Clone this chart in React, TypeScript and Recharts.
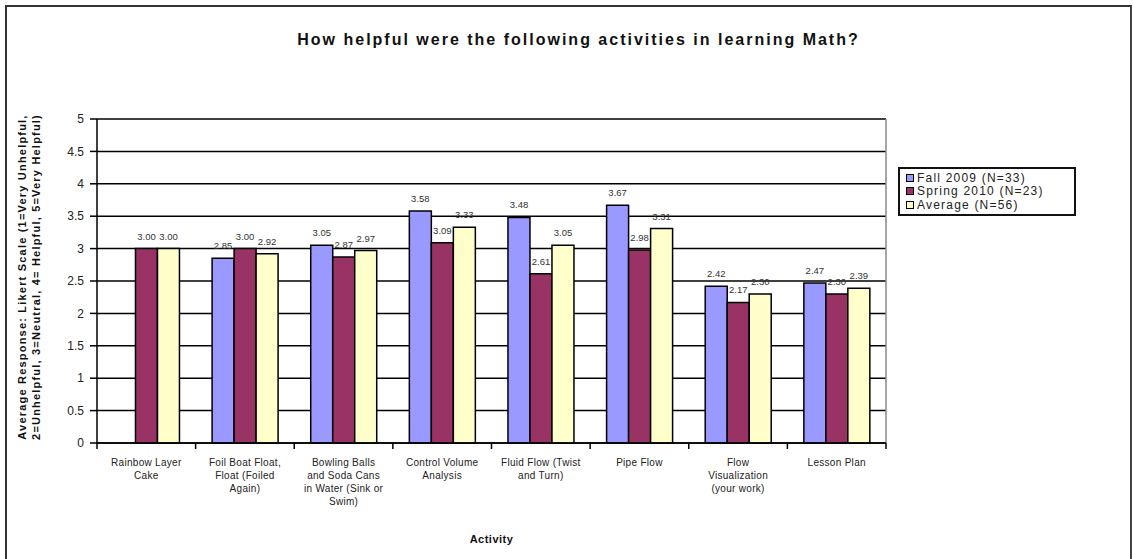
import React from 'react';
import {
  BarChart,
  Bar,
  XAxis,
  YAxis,
  CartesianGrid,
  Legend,
  LabelList,
  Label,
} from 'recharts';

// Activities on the category axis, with the wrapped lines shown under each tick
const categories = [
  'Rainbow Layer Cake',
  'Foil Boat Float, Float (Foiled Again)',
  'Bowling Balls and Soda Cans in Water (Sink or Swim)',
  'Control Volume Analysis',
  'Fluid Flow (Twist and Turn)',
  'Pipe Flow',
  'Flow Visualization (your work)',
  'Lesson Plan',
];
const categoryLines = [
  ['Rainbow Layer', 'Cake'],
  ['Foil Boat Float,', 'Float (Foiled', 'Again)'],
  ['Bowling Balls', 'and Soda Cans', 'in Water (Sink or', 'Swim)'],
  ['Control Volume', 'Analysis'],
  ['Fluid Flow (Twist', 'and Turn)'],
  ['Pipe Flow'],
  ['Flow', 'Visualization', '(your work)'],
  ['Lesson Plan'],
];

// Mean Likert responses per cohort
const fall2009: (number | null)[] = [null, 2.85, 3.05, 3.58, 3.48, 3.67, 2.42, 2.47];
const spring2010 = [3.0, 3.0, 2.87, 3.09, 2.61, 2.98, 2.17, 2.3];
const average = [3.0, 2.92, 2.97, 3.33, 3.05, 3.31, 2.3, 2.39];

const seriesNames = ['Fall 2009 (N=33)', 'Spring 2010 (N=23)', 'Average (N=56)'];
const seriesColors = ['#9999FF', '#993366', '#FFFFCC'];
const yTicks = [0, 0.5, 1, 1.5, 2, 2.5, 3, 3.5, 4, 4.5, 5];

const data = categories.map((name, i) => ({
  name,
  lines: categoryLines[i],
  fall: fall2009[i],
  spring: spring2010[i],
  avg: average[i],
}));

const FONT = '"Liberation Sans", Arial, sans-serif';
const W = 1133;
const H = 559;
const MARGIN = { top: 119, right: 247, bottom: 0, left: 0 };
const Y_AXIS_W = 97;
const X_AXIS_H = 116;
const PLOT_W = W - MARGIN.left - MARGIN.right - Y_AXIS_W;

const CategoryTick = (props: any) => {
  const { x, y, payload, index } = props;
  const half = payload && payload.offset ? payload.offset : PLOT_W / categories.length / 2;
  const axisY = y - 8;
  const lines: string[] = categoryLines[index] || [];
  return (
    <g>
      <line x1={x - half} x2={x - half} y1={axisY} y2={axisY + 6} stroke="#000" strokeWidth={1.5} />
      {index === categories.length - 1 && (
        <line x1={x + half} x2={x + half} y1={axisY} y2={axisY + 6} stroke="#000" strokeWidth={1.5} />
      )}
      <text
        x={x}
        y={axisY + 23}
        textAnchor="middle"
        fontFamily={FONT}
        fontSize={10}
        letterSpacing={0.3}
        fill="#222"
      >
        {lines.map((ln, k) => (
          <tspan key={k} x={x} dy={k === 0 ? 0 : 13}>
            {ln}
          </tspan>
        ))}
      </text>
    </g>
  );
};

const YAxisTitle = (props: any) => {
  const vb = props.viewBox || {};
  const cy = (vb.y || 119) + (vb.height || 324) / 2;
  return (
    <text
      transform={`translate(29, ${cy - 4}) rotate(-90)`}
      textAnchor="middle"
      fontFamily={FONT}
      fontSize={11}
      fontWeight="bold"
      letterSpacing={1.2}
      fill="#111"
    >
      <tspan x={0} dy={-3}>Average Response: Likert Scale (1=Very Unhelpful,</tspan>
      <tspan x={0} dy={14}>2=Unhelpful, 3=Neutral, 4= Helpful, 5=Very Helpful)</tspan>
    </text>
  );
};

const LegendBox = () => (
  <div
    style={{
      border: '2px solid #111',
      background: '#fff',
      padding: '2px 5px 2px 6px',
      fontFamily: FONT,
      fontSize: 12,
      letterSpacing: 1.2,
      color: '#222',
      width: 178,
      boxSizing: 'border-box',
      textAlign: 'left',
    }}
  >
    {seriesNames.map((n, i) => (
      <div key={n} style={{ display: 'flex', alignItems: 'center', height: 13.5, whiteSpace: 'nowrap' }}>
        <span
          style={{
            display: 'inline-block',
            width: 6,
            height: 6,
            background: seriesColors[i],
            border: '1.5px solid #000',
            marginRight: 3,
            flex: 'none',
          }}
        />
        <span>{n}</span>
      </div>
    ))}
  </div>
);

const fmt = (v: any) => (v === null || v === undefined ? '' : Number(v).toFixed(2));
const valueLabelStyle = { fontFamily: FONT, fontSize: 9.5, fill: '#333' };

export default function App() {
  return (
    <div style={{ position: 'absolute', left: 0, top: 0, width: W, height: H, background: '#fff' }}>
      <div
        style={{
          position: 'absolute',
          left: 5,
          top: 5,
          width: 1123,
          height: 552,
          borderLeft: '2px solid #333',
          borderTop: '2px solid #333',
          borderRight: '2px solid #444',
          borderBottom: '1px solid #bbb',
        }}
      />
      <div
        style={{
          position: 'absolute',
          left: 12,
          top: 31,
          width: W,
          textAlign: 'center',
          fontFamily: FONT,
          fontWeight: 'bold',
          fontSize: 16,
          letterSpacing: 2,
          color: '#111',
        }}
      >
        How helpful were the following activities in learning Math?
      </div>
      <BarChart
        width={W}
        height={H}
        data={data}
        margin={MARGIN}
        barGap={0}
        barCategoryGap="16.7%"
        style={{ position: 'absolute', left: 0, top: 0 }}
      >
        <CartesianGrid horizontal vertical={false} stroke="#000" strokeWidth={1.5} />
        <CartesianGrid
          horizontal={false}
          vertical
          stroke="#888"
          strokeWidth={1.5}
          verticalCoordinatesGenerator={({ offset }: any) => [offset.left + offset.width]}
        />
        <XAxis
          dataKey="name"
          height={X_AXIS_H}
          interval={0}
          tickLine={false}
          tickSize={6}
          tickMargin={2}
          axisLine={{ stroke: '#000', strokeWidth: 1.5 }}
          tick={<CategoryTick />}
        >
          <Label
            value="Activity"
            position="insideBottom"
            offset={16}
            style={{ fontFamily: FONT, fontSize: 11, fontWeight: 'bold', fill: '#111', letterSpacing: 0.5 }}
          />
        </XAxis>
        <YAxis
          width={Y_AXIS_W}
          domain={[0, 5]}
          ticks={yTicks}
          interval={0}
          tickSize={7}
          tickMargin={6}
          tickLine={{ stroke: '#000', strokeWidth: 1.5 }}
          axisLine={{ stroke: '#000', strokeWidth: 1.5 }}
          tick={{ fontFamily: FONT, fontSize: 12, fill: '#222' }}
        >
          <Label content={<YAxisTitle />} />
        </YAxis>
        <Legend
          layout="vertical"
          align="center"
          verticalAlign="middle"
          content={<LegendBox />}
          wrapperStyle={{ position: 'absolute', left: 898, top: 167, width: 178, right: 'auto', bottom: 'auto' }}
        />
        <Bar dataKey="fall" name={seriesNames[0]} fill={seriesColors[0]} stroke="#000" strokeWidth={1.5} isAnimationActive={false}>
          <LabelList dataKey="fall" position="top" offset={9} formatter={fmt} style={valueLabelStyle} />
        </Bar>
        <Bar dataKey="spring" name={seriesNames[1]} fill={seriesColors[1]} stroke="#000" strokeWidth={1.5} isAnimationActive={false}>
          <LabelList dataKey="spring" position="top" offset={9} formatter={fmt} style={valueLabelStyle} />
        </Bar>
        <Bar dataKey="avg" name={seriesNames[2]} fill={seriesColors[2]} stroke="#000" strokeWidth={1.5} isAnimationActive={false}>
          <LabelList dataKey="avg" position="top" offset={9} formatter={fmt} style={valueLabelStyle} />
        </Bar>
      </BarChart>
    </div>
  );
}
